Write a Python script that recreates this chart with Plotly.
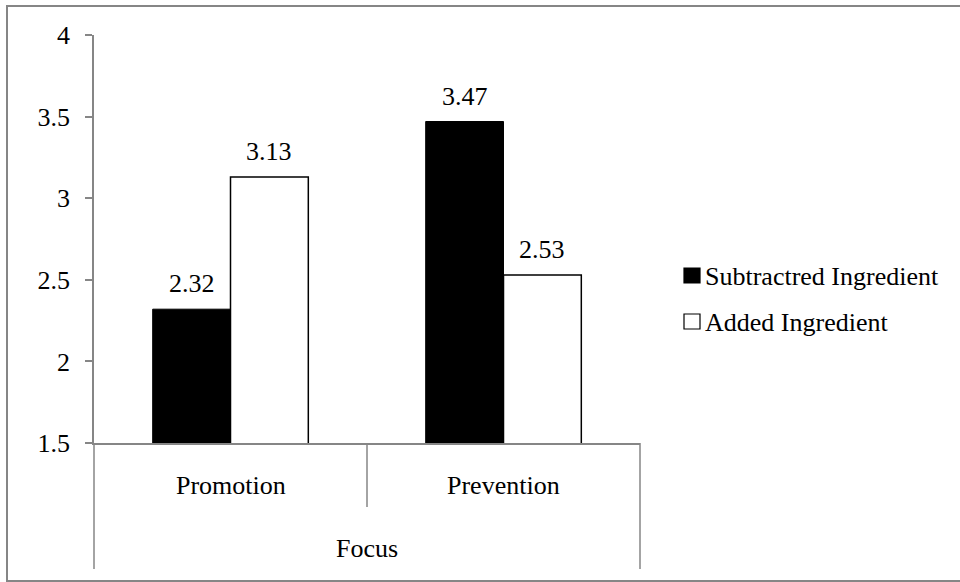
import plotly.graph_objects as go

# Chart data
categories = ["Promotion", "Prevention"]
series_names = ["Subtractred Ingredient", "Added Ingredient"]
subtracted = [2.32, 3.47]
added = [3.13, 2.53]
group_title = "Focus"
y_ticks = [1.5, 2, 2.5, 3, 3.5, 4]
y_tick_text = ["1.5", "2", "2.5", "3", "3.5", "4"]

FONT = "Liberation Serif"
GREY = "#868686"
FS = 26
BARGAP = 0.43

# Plot area in pixels (left, right, top, bottom)
PL, PR, PT, PB = 94, 640, 35, 443


def px(x):
    return (x - PL) / (PR - PL)


def py(y):
    return (PB - y) / (PB - PT)


series_styles = [
    dict(color="black", line=dict(color="black", width=1)),
    dict(color="white", line=dict(color="black", width=1.5)),
]

fig = go.Figure()
for name, vals, style in zip(series_names, [subtracted, added], series_styles):
    fig.add_trace(go.Bar(name=name, x=categories, y=vals, base=0, marker=style,
                         showlegend=False))

# Value labels above each bar
half = (1 - BARGAP) / 4
annotations = []
for i, cat in enumerate(categories):
    for j, vals in enumerate([subtracted, added]):
        annotations.append(dict(
            x=i + (-half if j == 0 else half), y=vals[i], xref="x", yref="y",
            text=f"{vals[i]:.2f}", showarrow=False, xanchor="center", yanchor="bottom",
            yshift=9, font=dict(family=FONT, size=FS, color="black"),
        ))

# Category labels and the group title below the axis
for i, cat in enumerate(categories):
    annotations.append(dict(
        x=0.25 + 0.5 * i, y=py(485), xref="paper", yref="paper", text=cat,
        showarrow=False, xanchor="center", yanchor="middle",
        font=dict(family=FONT, size=FS, color="black"),
    ))
annotations.append(dict(
    x=0.5, y=py(548), xref="paper", yref="paper", text=group_title,
    showarrow=False, xanchor="center", yanchor="middle",
    font=dict(family=FONT, size=FS, color="black"),
))

shapes = [
    # category dividers on the grouped axis
    dict(type="line", xref="paper", yref="paper", x0=0, x1=0, y0=0, y1=py(569),
         line=dict(color=GREY, width=1.5)),
    dict(type="line", xref="paper", yref="paper", x0=0.5, x1=0.5, y0=0, y1=py(507),
         line=dict(color=GREY, width=1.5)),
    dict(type="line", xref="paper", yref="paper", x0=1, x1=1, y0=0, y1=py(569),
         line=dict(color=GREY, width=1.5)),
    # chart frame
    dict(type="rect", xref="paper", yref="paper", x0=px(7), x1=px(970), y0=py(581),
         y1=py(6), line=dict(color=GREY, width=2), layer="below"),
]

# Legend: key squares with series names
legend_rows = [276, 322]
for name, style, row in zip(series_names, series_styles, legend_rows):
    shapes.append(dict(
        type="rect", xref="paper", yref="paper",
        x0=px(684), x1=px(700), y0=py(row + 7), y1=py(row - 8),
        fillcolor=style["color"], line=dict(color="black", width=1.2),
    ))
    annotations.append(dict(
        x=px(703), y=py(row), xref="paper", yref="paper", text=name,
        showarrow=False, xanchor="left", yanchor="middle",
        font=dict(family=FONT, size=FS, color="black"),
    ))

fig.update_layout(
    width=960, height=582,
    margin=dict(l=PL, r=960 - PR, t=PT, b=582 - PB),
    paper_bgcolor="white", plot_bgcolor="white",
    barmode="group", bargap=BARGAP, bargroupgap=0,
    font=dict(family=FONT, size=FS, color="black"),
    showlegend=False,
    annotations=annotations,
    shapes=shapes,
    xaxis=dict(showline=True, linecolor=GREY, linewidth=1.5, showticklabels=False,
               ticks="", showgrid=False, zeroline=False, fixedrange=True),
    yaxis=dict(range=[1.5, 4], tickvals=y_ticks, ticktext=y_tick_text,
               showline=True, linecolor=GREY, linewidth=1.5, ticks="outside",
               ticklen=7, tickcolor=GREY, tickwidth=1.5, showgrid=False,
               zeroline=False, ticklabelstandoff=10,
               tickfont=dict(family=FONT, size=FS, color="black")),
)

fig.write_html("out.html")
